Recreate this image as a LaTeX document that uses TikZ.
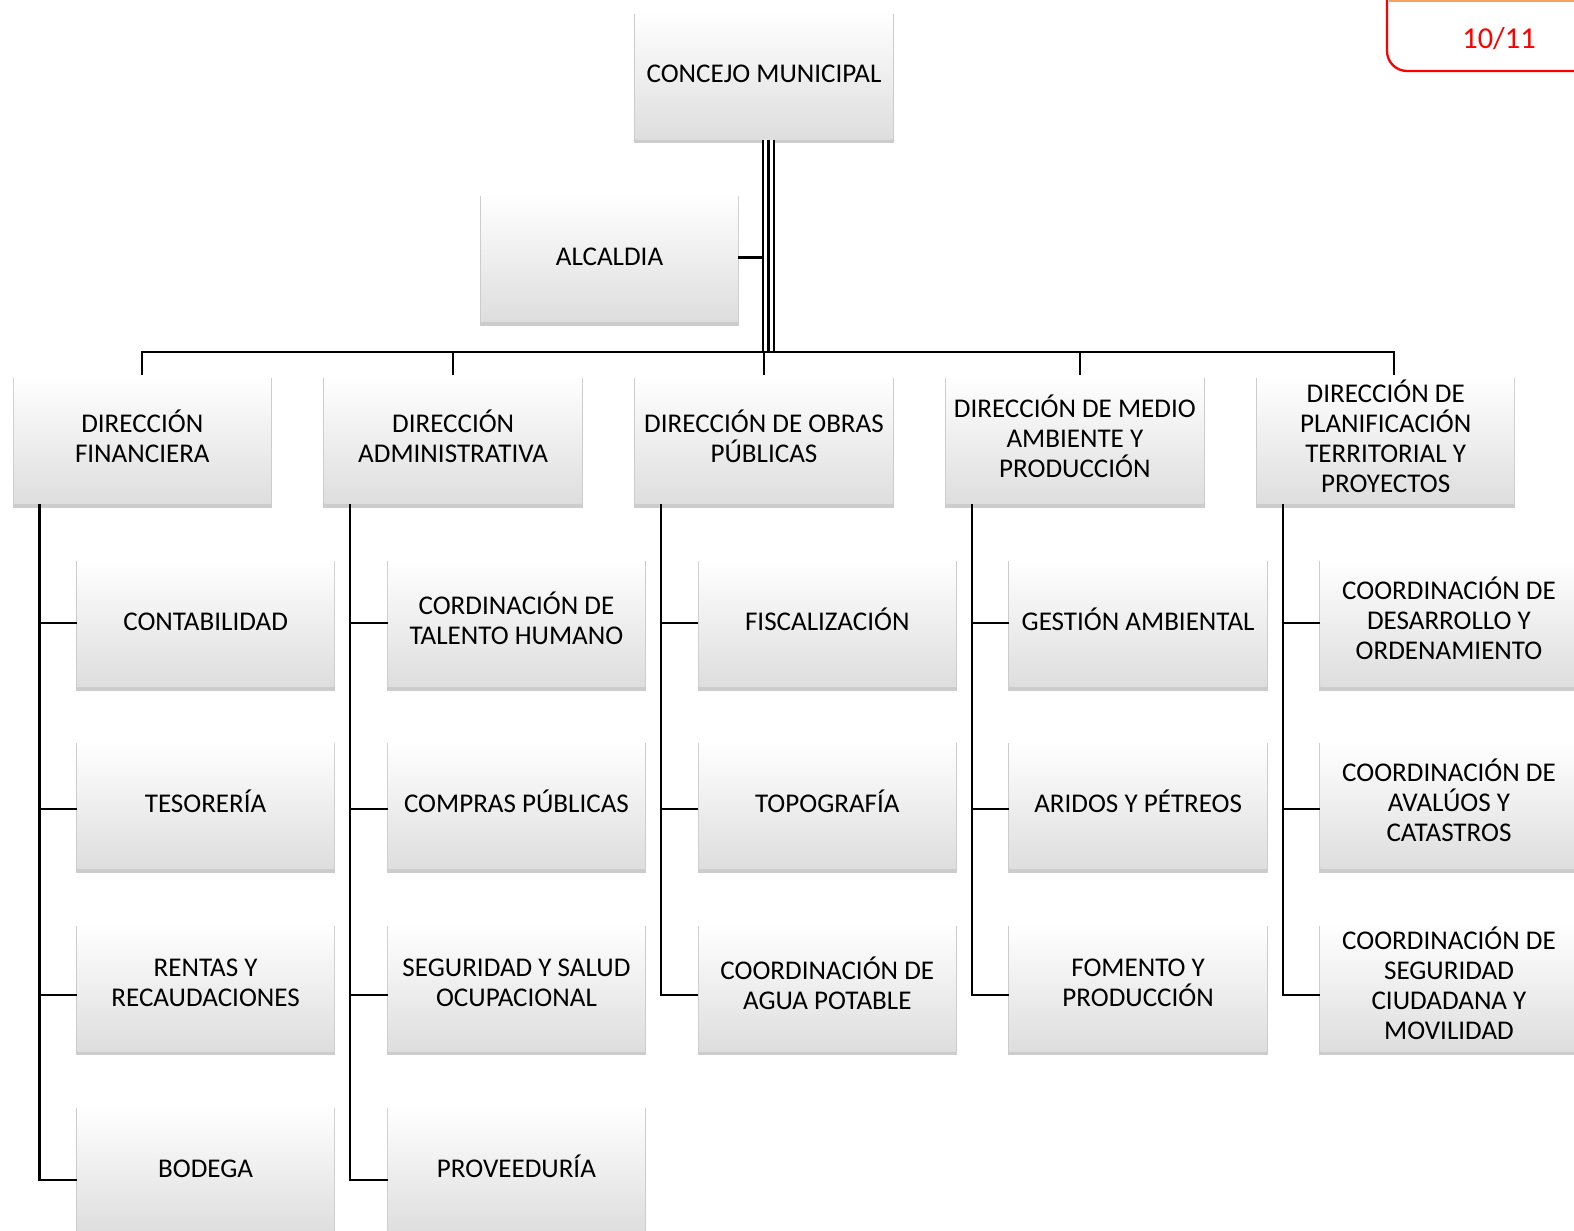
\documentclass[tikz,border=0pt]{standalone}
\usepackage{fontspec}
\setmainfont{Carlito}
\usetikzlibrary{positioning,shadows}
\definecolor{pageline}{RGB}{244,164,96}

\begin{document}
\begin{tikzpicture}[x=0.02cm,y=-0.02cm,node distance=1.064cm,
    unit/.style={minimum width=5.14cm,minimum height=2.57cm,inner sep=2pt,align=center,
        top color=white,middle color=black!2,bottom color=black!13,
        drop shadow={shadow xshift=0cm,shadow yshift=-0.07cm,shadow scale=1.01,opacity=0.4},
        font=\fontsize{15.4}{17.1}\selectfont,
        execute at begin node={\rule{0pt}{13.5pt}},
        execute at end node={\rule[-4.5pt]{0pt}{4.5pt}}},
    conn/.style={line width=1.3pt}]
    \useasboundingbox (0,0) rectangle (1574,1230);
    \clip (0,0) rectangle (1574,1230);

    % top of the chart
    \node[unit] (concejo) at (764,75) {CONCEJO MUNICIPAL};
    \node[unit, below=of concejo, xshift=-3.09cm] (alcaldia) {ALCALDIA};

    % direcciones
    \node[unit, below=of alcaldia, xshift=3.09cm] (dirO) {DIRECCIÓN DE OBRAS\\PÚBLICAS};
    \node[unit, left=of dirO] (dirA) {DIRECCIÓN\\ADMINISTRATIVA};
    \node[unit, left=of dirA] (dirF) {DIRECCIÓN\\FINANCIERA};
    \node[unit, right=of dirO] (dirM) {DIRECCIÓN DE MEDIO\\AMBIENTE Y\\PRODUCCIÓN};
    \node[unit, right=of dirM] (dirP) {DIRECCIÓN DE\\PLANIFICACIÓN\\TERRITORIAL Y\\PROYECTOS};

    % units under each direccion
    \node[unit, below=of dirF, xshift=1.266cm] (contab) {CONTABILIDAD};
    \node[unit, below=of contab] (tesor) {TESORERÍA};
    \node[unit, below=of tesor] (rentas) {RENTAS Y\\RECAUDACIONES};
    \node[unit, below=of rentas] (bodega) {BODEGA};

    \node[unit, below=of dirA, xshift=1.266cm] (talento) {CORDINACIÓN DE\\TALENTO HUMANO};
    \node[unit, below=of talento] (compras) {COMPRAS PÚBLICAS};
    \node[unit, below=of compras] (segsalud) {SEGURIDAD Y SALUD\\OCUPACIONAL};
    \node[unit, below=of segsalud] (provee) {PROVEEDURÍA};

    \node[unit, below=of dirO, xshift=1.266cm] (fiscal) {FISCALIZACIÓN};
    \node[unit, below=of fiscal] (topo) {TOPOGRAFÍA};
    \node[unit, below=of topo] (agua) {COORDINACIÓN DE\\AGUA POTABLE};

    \node[unit, below=of dirM, xshift=1.266cm] (gestion) {GESTIÓN AMBIENTAL};
    \node[unit, below=of gestion] (aridos) {ARIDOS Y PÉTREOS};
    \node[unit, below=of aridos] (fomento) {FOMENTO Y\\PRODUCCIÓN};

    \node[unit, below=of dirP, xshift=1.266cm] (desarr) {COORDINACIÓN DE\\DESARROLLO Y\\ORDENAMIENTO};
    \node[unit, below=of desarr] (avaluos) {COORDINACIÓN DE\\AVALÚOS Y\\CATASTROS};
    \node[unit, below=of avaluos] (ciudad) {COORDINACIÓN DE\\SEGURIDAD\\CIUDADANA Y\\MOVILIDAD};

    % trunk and bus
    \coordinate (bus) at ([yshift=0.46cm]dirO.north);
    \coordinate (trunk) at ([xshift=0.09cm]concejo.south);
    \coordinate (trunkL) at ([xshift=-0.015cm]concejo.south);
    \draw[conn, double distance=0.17cm] (trunk) -- (trunk |- bus);
    \draw[conn] (trunk) -- (trunk |- bus);
    \draw[conn] (alcaldia.east) -- (alcaldia.east -| trunkL);
    \draw[conn] (dirF.north) |- (bus) -| ([xshift=0.16cm]dirP.north);
    \draw[conn] (dirA.north) -- (dirA.north |- bus);
    \draw[conn] (dirO.north) -- (dirO.north |- bus);
    \draw[conn] ([xshift=0.1cm]dirM.north) -- ([xshift=0.1cm]dirM.north |- bus);

    % spines
    \coordinate (sF) at ([xshift=0.52cm]dirF.south west);
    \coordinate (sA) at ([xshift=0.52cm]dirA.south west);
    \coordinate (sO) at ([xshift=0.52cm]dirO.south west);
    \coordinate (sM) at ([xshift=0.52cm]dirM.south west);
    \coordinate (sP) at ([xshift=0.52cm]dirP.south west);
    \draw[conn] (sF) |- ([yshift=-0.22cm]bodega.west);
    \draw[conn] ([yshift=-0.02cm]contab.west) -- ([yshift=-0.02cm]contab.west -| sF);
    \draw[conn] ([yshift=-0.09cm]tesor.west) -- ([yshift=-0.09cm]tesor.west -| sF);
    \draw[conn] ([yshift=-0.16cm]rentas.west) -- ([yshift=-0.16cm]rentas.west -| sF);
    \draw[conn] (sA) |- ([yshift=-0.22cm]provee.west);
    \draw[conn] ([yshift=-0.02cm]talento.west) -- ([yshift=-0.02cm]talento.west -| sA);
    \draw[conn] ([yshift=-0.09cm]compras.west) -- ([yshift=-0.09cm]compras.west -| sA);
    \draw[conn] ([yshift=-0.16cm]segsalud.west) -- ([yshift=-0.16cm]segsalud.west -| sA);
    \draw[conn] (sO) |- ([yshift=-0.16cm]agua.west);
    \draw[conn] ([yshift=-0.02cm]fiscal.west) -- ([yshift=-0.02cm]fiscal.west -| sO);
    \draw[conn] ([yshift=-0.09cm]topo.west) -- ([yshift=-0.09cm]topo.west -| sO);
    \draw[conn] (sM) |- ([yshift=-0.16cm]fomento.west);
    \draw[conn] ([yshift=-0.02cm]gestion.west) -- ([yshift=-0.02cm]gestion.west -| sM);
    \draw[conn] ([yshift=-0.09cm]aridos.west) -- ([yshift=-0.09cm]aridos.west -| sM);
    \draw[conn] (sP) |- ([yshift=-0.16cm]ciudad.west);
    \draw[conn] ([yshift=-0.02cm]desarr.west) -- ([yshift=-0.02cm]desarr.west -| sP);
    \draw[conn] ([yshift=-0.09cm]avaluos.west) -- ([yshift=-0.09cm]avaluos.west -| sP);

    % page tab
    \draw[red, line width=1.3pt, rounded corners=0.4cm] (1387,-30) rectangle (1650,71);
    \draw[pageline, line width=1pt] (1389,1) -- (1574,1);
    \node[red, font=\fontsize{17.3}{20}\selectfont] (page) at (1499,39) {10/11};
\end{tikzpicture}
\end{document}
